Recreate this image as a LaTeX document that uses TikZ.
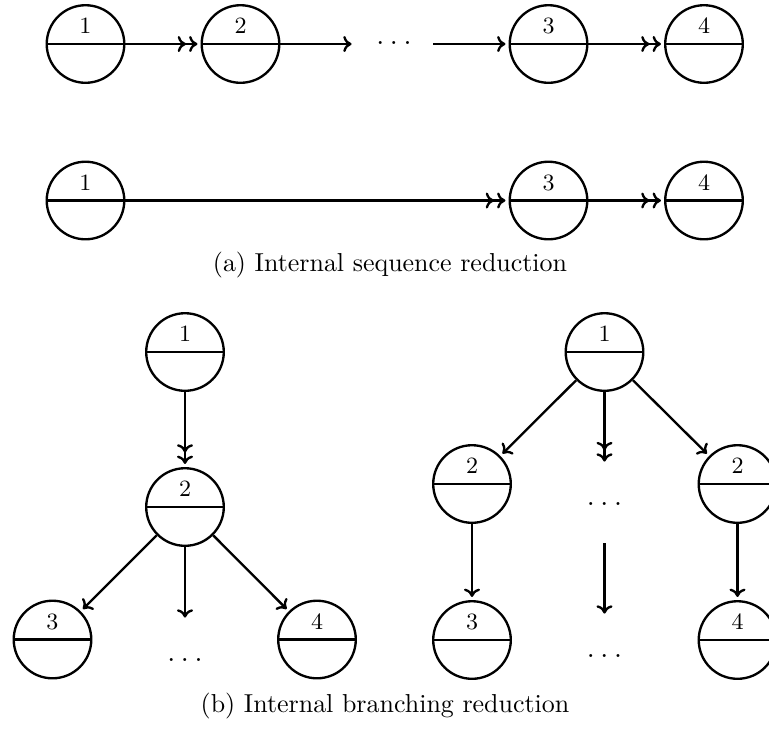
\documentclass[tikz,border=0pt]{standalone}
\usetikzlibrary{arrows.meta}
\begin{document}
\begin{tikzpicture}[
  x=0.3854pt, y=-0.3854pt,
  >={Computer Modern Rightarrow[length=3.2pt, width=6.2pt, sep=1.2pt]},
  state/.style={circle, draw, line width=0.9pt, minimum size=29.9pt, inner sep=0pt},
  gap/.style={minimum size=29.9pt, inner sep=0pt, font=\large},
  lab/.style={font=\small, anchor=base, inner sep=0pt},
  conn/.style={line width=0.9pt},
  caption/.style={font=\normalsize, inner sep=0pt}
]
\useasboundingbox (0,0) rectangle (769,745);

% a state: circle split by a horizontal line, number in the upper half
\newcommand\statenode[3]{%
  \node[state] (#1) at (#2) {};
  \draw[line width=0.9pt] (#1.west) -- (#1.east);
  \node[lab] (#1-lab) at ([yshift=3.9pt]#1.center) {#3};
}

% (a) internal sequence reduction
\statenode{a1}{85.5,44}{1}
\statenode{a2}{240.5,44}{2}
\node[gap] (adots) at (394,43) {$\dots$};
\statenode{a3}{548.5,44}{3}
\statenode{a4}{704,44}{4}
\draw[conn,->>] (a1) -- (a2);
\draw[conn,->] (a2) -- (a2 -| adots.west);
\draw[conn,->] (a3 -| adots.east) -- (a3);
\draw[conn,->>] (a3) -- (a4);

\statenode{b1}{85.5,200.5}{1}
\statenode{b3}{548.5,200.5}{3}
\statenode{b4}{704,200.5}{4}
\draw[conn,->>] (b1) -- (b3);
\draw[conn,->>] (b3) -- (b4);

\node[caption] (capa) at (390,265) {(a) Internal sequence reduction};

% (b) internal branching reduction, before
\statenode{l1}{185,352}{1}
\statenode{l2}{185,507}{2}
\statenode{l3}{52.5,639.5}{3}
\node[gap] (ldots) at (185,660) {$\dots$};
\statenode{l4}{317,639.5}{4}
\draw[conn,->>] (l1) -- (l2);
\draw[conn,->] (l2) -- (l3);
\draw[conn,->] (l2) -- (ldots);
\draw[conn,->] (l2) -- (l4);

% (b) internal branching reduction, after
\statenode{r1}{604.5,352}{1}
\statenode{r2a}{472,484}{2}
\node[gap] (rdotsa) at (604.5,504) {$\dots$};
\statenode{r2b}{737.5,484}{2}
\statenode{r3}{472,640}{3}
\node[gap] (rdotsb) at (604.5,656) {$\dots$};
\statenode{r4}{737.5,640}{4}
\draw[conn,->] (r1) -- (r2a);
\draw[conn,->>] (r1) -- (rdotsa);
\draw[conn,->] (r1) -- (r2b);
\draw[conn,->] (r2a) -- (r3);
\draw[conn,->] (rdotsa) -- (rdotsb);
\draw[conn,->] (r2b) -- (r4);

\node[caption] (capb) at (385,706) {(b) Internal branching reduction};
\end{tikzpicture}
\end{document}
